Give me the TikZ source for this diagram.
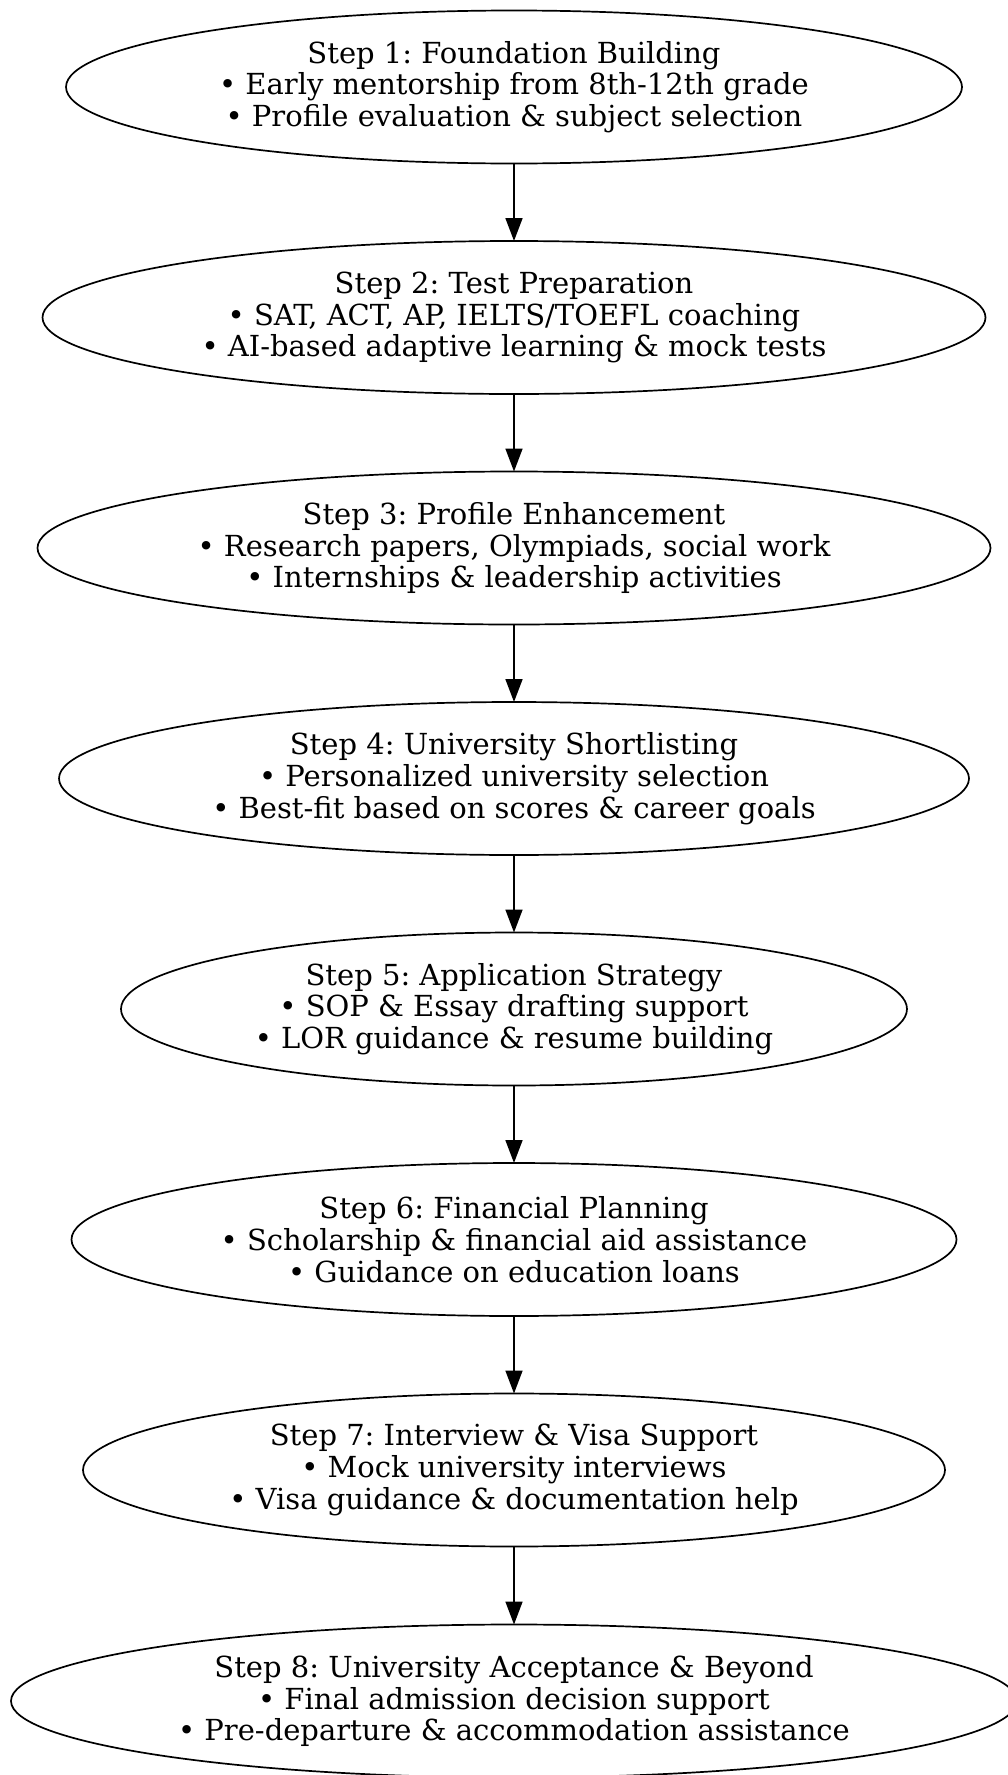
\documentclass[tikz,border=0pt]{standalone}
\usepackage{fontspec}
\setmainfont{DejaVu Serif}
\usetikzlibrary{shapes.geometric,arrows.meta}
\frenchspacing
\begin{document}
\begin{tikzpicture}[x=1pt,y=-1pt,
  stepbox/.style={ellipse,draw,line width=1.7pt,inner sep=0pt,outer sep=0pt,minimum height=153pt,align=center,font=\fontsize{29}{31.7}\selectfont},
  arr/.style={line width=1.7pt,-{Triangle[length=23pt,width=17pt]}}]
\useasboundingbox (0,0) rectangle (1008,1775);
\node[stepbox,minimum width=896pt] (s1) at (514,87) {Step 1: Foundation Building\\• Early mentorship from 8th-12th grade\\• Profile evaluation \& subject selection};
\node[stepbox,minimum width=943pt] (s2) at (514,317.5) {Step 2: Test Preparation\\• SAT, ACT, AP, IELTS/TOEFL coaching\\• AI-based adaptive learning \& mock tests};
\node[stepbox,minimum width=953pt] (s3) at (514,548) {Step 3: Profile Enhancement\\• Research papers, Olympiads, social work\\• Internships \& leadership activities};
\node[stepbox,minimum width=910pt] (s4) at (514,778.5) {Step 4: University Shortlisting\\• Personalized university selection\\• Best-fit based on scores \& career goals};
\node[stepbox,minimum width=786pt] (s5) at (514,1009) {Step 5: Application Strategy\\• SOP \& Essay drafting support\\• LOR guidance \& resume building};
\node[stepbox,minimum width=885pt] (s6) at (514,1239.5) {Step 6: Financial Planning\\• Scholarship \& financial aid assistance\\• Guidance on education loans};
\node[stepbox,minimum width=862pt] (s7) at (514,1470) {Step 7: Interview \& Visa Support\\• Mock university interviews\\• Visa guidance \& documentation help};
\node[stepbox,minimum width=1006pt] (s8) at (514,1701) {Step 8: University Acceptance \& Beyond\\• Final admission decision support\\• Pre-departure \& accommodation assistance};
\draw[arr] (s1) -- (s2);
\draw[arr] (s2) -- (s3);
\draw[arr] (s3) -- (s4);
\draw[arr] (s4) -- (s5);
\draw[arr] (s5) -- (s6);
\draw[arr] (s6) -- (s7);
\draw[arr] (s7) -- (s8);
\end{tikzpicture}
\end{document}
